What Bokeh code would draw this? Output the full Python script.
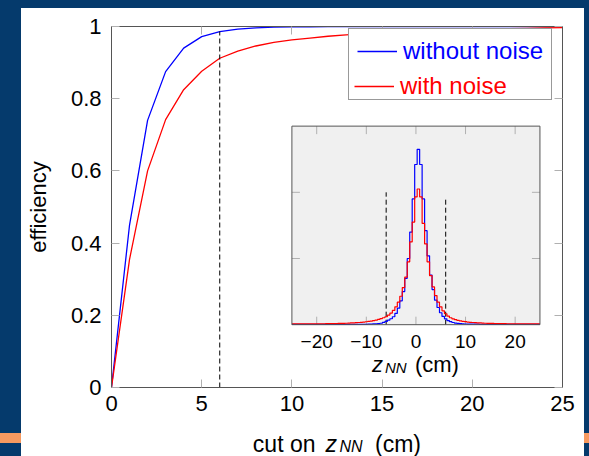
import numpy as np
from bokeh.plotting import figure
from bokeh.models import (Range1d, FixedTicker, LinearAxis, Legend, LegendItem, Div)
from bokeh.layouts import row, column
from bokeh.embed import file_html
from bokeh.resources import INLINE
from bokeh.core.properties import value

# ---------------- data ----------------
cut_values = [0, 1, 2, 3, 4, 5, 6, 7, 8, 9, 10, 11, 12, 13, 14, 15, 16, 17, 18, 19, 20, 21, 22, 23, 24, 25]
eff_without_noise = [0.0, 0.45, 0.74, 0.875, 0.94, 0.972, 0.986, 0.993, 0.996, 0.998, 0.999,
                     0.9993, 0.9995, 0.9996, 0.9997, 0.9998, 0.9998, 0.9999, 0.9999, 0.9999,
                     1.0, 1.0, 1.0, 1.0, 1.0, 1.0]
eff_with_noise = [0.0, 0.355, 0.60, 0.742, 0.825, 0.876, 0.912, 0.932, 0.946, 0.956, 0.963,
                  0.968, 0.973, 0.977, 0.980, 0.982, 0.984, 0.986, 0.988, 0.990, 0.991,
                  0.992, 0.994, 0.995, 0.996, 0.997]
working_cut = 6
series_labels = ["without noise", "with noise"]

x_ticks = [0, 5, 10, 15, 20, 25]
y_ticks = [0, 0.2, 0.4, 0.6, 0.8, 1]
y_tick_labels = {0: "0", 0.2: "0.2", 0.4: "0.4", 0.6: "0.6", 0.8: "0.8", 1: "1"}

# inset histogram of z_NN (bin width 0.5, centres -25 ... 25)
hist_bin_width = 0.5
hist_centers = np.arange(-25.0, 25.0 + hist_bin_width / 2, hist_bin_width)
hist_without_noise = (
    [0.006] * 31 +
    [0.008, 0.009, 0.011, 0.013, 0.017, 0.022, 0.036, 0.05, 0.068, 0.09,
     0.12, 0.17, 0.25, 0.36, 0.5, 0.7, 1.0, 1.4, 1.9, 2.42,
     2.65, 2.42, 1.9, 1.42, 1.04, 0.75, 0.53, 0.37, 0.26, 0.18,
     0.125, 0.088, 0.062, 0.045, 0.033, 0.025, 0.019, 0.015, 0.012, 0.01] +
    [0.009, 0.008, 0.008, 0.007, 0.007] + [0.006] * 25
)
hist_with_noise = (
    [0.012] * 11 +
    [0.013, 0.013, 0.014, 0.015, 0.015, 0.016, 0.017, 0.018, 0.019, 0.02,
     0.021, 0.022, 0.024, 0.026, 0.028, 0.03, 0.033, 0.036, 0.04, 0.044,
     0.049, 0.055, 0.062, 0.07, 0.08, 0.092, 0.105, 0.12, 0.145, 0.175,
     0.215, 0.27, 0.34, 0.43, 0.56, 0.72, 0.95, 1.25, 1.55, 1.93,
     2.05, 1.93, 1.53, 1.22, 0.95, 0.74, 0.57, 0.44, 0.34, 0.27,
     0.21, 0.165, 0.13, 0.105, 0.088, 0.075, 0.065, 0.057, 0.05, 0.045,
     0.04, 0.036, 0.033, 0.03, 0.028, 0.026, 0.024, 0.022, 0.021, 0.02,
     0.019, 0.018, 0.017, 0.016, 0.015, 0.015, 0.014, 0.013, 0.013] +
    [0.012] * 11
)
inset_x_ticks = [-20, -10, 0, 10, 20]
inset_x_tick_labels = ["\u221220", "\u221210", "0", "10", "20"]
inset_y_ticks = [1, 2]
inset_cuts = [-6, 6]
inset_cut_heights = [2.0, 1.93]

# ---------------- style ----------------
FONT = "Liberation Sans"
BLUE = "#0000ff"
RED = "#ff0000"
SLIDE_BLUE = "#053a6c"
ORANGE = "#f79a60"
TICK = "#b0b0b0"
FRAME = "#555555"

# inset placement (in main-plot data units) and ranges
INSET_X = (10.0, 23.75)
INSET_Y = (0.174, 0.724)
inset_xr = Range1d(-25, 25)
inset_yr = Range1d(0, 3)

W = 563
H = 414            # main figure (page y 8 .. 422)
HL = 34            # x-label strip (page y 422 .. 456)
BL, BR, BT, BB = 90, 22, 18, 35

xr = Range1d(0, 25)
p = figure(width=W, height=H, x_range=xr, y_range=Range1d(0, 1),
           output_backend="svg", toolbar_location=None,
           min_border_left=BL, min_border_right=BR, min_border_top=BT, min_border_bottom=BB,
           background_fill_color="white", border_fill_color="white",
           outline_line_color=FRAME, outline_line_width=1)
p.grid.grid_line_color = None


def style_axis(ax, ticks, show_labels):
    ax.ticker = FixedTicker(ticks=ticks)
    ax.major_tick_in = 8
    ax.major_tick_out = 0
    ax.major_tick_line_color = TICK
    ax.minor_tick_line_color = None
    ax.axis_line_color = FRAME
    ax.major_label_text_font = FONT
    ax.major_label_text_font_size = "22px"
    ax.major_label_text_color = "black"
    ax.major_label_standoff = 8
    if not show_labels:
        ax.major_label_text_color = None
        ax.major_label_text_font_size = "0px"
        ax.major_label_standoff = 0


style_axis(p.xaxis[0], x_ticks, True)
style_axis(p.yaxis[0], y_ticks, True)
p.yaxis[0].major_label_overrides = y_tick_labels
p.yaxis[0].major_label_standoff = 10
p.yaxis[0].axis_label = "efficiency"
p.yaxis[0].axis_label_text_font = FONT
p.yaxis[0].axis_label_text_font_size = "22px"
p.yaxis[0].axis_label_text_font_style = "normal"
p.yaxis[0].axis_label_text_color = "black"
p.yaxis[0].axis_label_standoff = 17

top_ax = LinearAxis()
style_axis(top_ax, x_ticks, False)
p.add_layout(top_ax, "above")
right_ax = LinearAxis()
style_axis(right_ax, y_ticks, False)
p.add_layout(right_ax, "right")

# main curves
r_blue = p.line(cut_values, eff_without_noise, line_color=BLUE, line_width=1.3)
r_red = p.line(cut_values, eff_with_noise, line_color=RED, line_width=1.3)
cut_top = eff_without_noise[cut_values.index(working_cut)]
p.segment(x0=[working_cut], y0=[0], x1=[working_cut], y1=[cut_top],
          line_color="black", line_width=1, line_dash="5 3")

# ---------------- inset ----------------
sub = p.subplot(x_source=inset_xr, y_source=inset_yr,
                x_target=Range1d(*INSET_X), y_target=Range1d(*INSET_Y))
frame_w_px = W - BL - BR
frame_h_px = H - BT - BB
inset_w_px = (INSET_X[1] - INSET_X[0]) / 25 * frame_w_px
inset_h_px = (INSET_Y[1] - INSET_Y[0]) * frame_h_px
tick_px = 8
tlx = tick_px * (inset_xr.end - inset_xr.start) / inset_w_px
tly = tick_px * (inset_yr.end - inset_yr.start) / inset_h_px

sub.quad(left=[inset_xr.start], right=[inset_xr.end], bottom=[inset_yr.start], top=[inset_yr.end],
         fill_color="#f0f0f0", line_color=None)
n = len(inset_x_ticks)
sub.segment(x0=inset_x_ticks, x1=inset_x_ticks, y0=[inset_yr.start] * n, y1=[inset_yr.start + tly] * n,
            line_color=TICK, line_width=1)
sub.segment(x0=inset_x_ticks, x1=inset_x_ticks, y0=[inset_yr.end] * n, y1=[inset_yr.end - tly] * n,
            line_color=TICK, line_width=1)
m = len(inset_y_ticks)
sub.segment(x0=[inset_xr.start] * m, x1=[inset_xr.start + tlx] * m, y0=inset_y_ticks, y1=inset_y_ticks,
            line_color=TICK, line_width=1)
sub.segment(x0=[inset_xr.end] * m, x1=[inset_xr.end - tlx] * m, y0=inset_y_ticks, y1=inset_y_ticks,
            line_color=TICK, line_width=1)
sub.segment(x0=inset_cuts, x1=inset_cuts, y0=[0] * len(inset_cuts), y1=inset_cut_heights,
            line_color="black", line_width=1, line_dash="5 3")
sub.step(x=hist_centers, y=hist_without_noise, mode="center", line_color=BLUE, line_width=1.2)
sub.step(x=hist_centers, y=hist_with_noise, mode="center", line_color=RED, line_width=1.2)
sub.quad(left=[inset_xr.start], right=[inset_xr.end], bottom=[inset_yr.start], top=[inset_yr.end],
         fill_color=None, line_color=FRAME, line_width=1)
sub.text(x=inset_x_ticks, y=[inset_yr.start] * n, text=inset_x_tick_labels,
         text_align="center", text_baseline="top", y_offset=10,
         text_font=value(FONT), text_font_size="19px", text_color="black")
sub.text(x=[0], y=[inset_yr.start], text=["z"], x_offset=-44, y_offset=40,
         text_align="left", text_baseline="alphabetic", text_font=value(FONT),
         text_font_size="22px", text_font_style="italic", text_color="black")
sub.text(x=[0], y=[inset_yr.start], text=["NN"], x_offset=-31, y_offset=43,
         text_align="left", text_baseline="alphabetic", text_font=value(FONT),
         text_font_size="15px", text_font_style="italic", text_color="black")
sub.text(x=[0], y=[inset_yr.start], text=["(cm)"], x_offset=-1, y_offset=40,
         text_align="left", text_baseline="alphabetic", text_font=value(FONT),
         text_font_size="22px", text_color="black")

# ---------------- legend ----------------
dummy = p.line(x=[], y=[], line_alpha=0)
leg_common = dict(margin=0, padding=8, spacing=6, glyph_width=40,
                  label_standoff=6, label_text_font=FONT, label_text_font_size="24px",
                  click_policy="none")
legend_a = Legend(items=[LegendItem(label=series_labels[0], renderers=[r_blue]),
                         LegendItem(label=" ", renderers=[dummy])],
                  location=(237, 287),
                  label_text_color=BLUE, border_line_color="#333333", border_line_width=1,
                  background_fill_color="white", background_fill_alpha=1, **leg_common)
legend_b = Legend(items=[LegendItem(label=series_labels[1], renderers=[r_red])],
                  location=(243, 287),
                  label_text_color=RED, border_line_color=None, background_fill_alpha=0, **leg_common)
p.add_layout(legend_a)
p.add_layout(legend_b)

# ---------------- x-axis title strip: cut on z_NN (cm) ----------------
lab = figure(width=W, height=HL, x_range=xr, y_range=Range1d(0, 1),
             output_backend="svg", toolbar_location=None,
             min_border_left=BL, min_border_right=BR, min_border_top=0, min_border_bottom=0,
             x_axis_location=None, y_axis_location=None,
             background_fill_color="white", border_fill_color="white", outline_line_color=None)
lab.grid.grid_line_color = None
xc = (xr.start + xr.end) / 2
lab_kw = dict(x=[xc], y=[1], text_font=value(FONT), text_color="black", text_baseline="alphabetic")
lab.text(text=["cut on"], x_offset=-21.5, y_offset=21, text_align="right",
         text_font_size="23px", **lab_kw)
lab.text(text=["z"], x_offset=-11.5, y_offset=21, text_align="left",
         text_font_size="23px", text_font_style="italic", **lab_kw)
lab.text(text=["NN"], x_offset=2.5, y_offset=24, text_align="left",
         text_font_size="16px", text_font_style="italic", **lab_kw)
lab.text(text=["(cm)"], x_offset=38, y_offset=21, text_align="left",
         text_font_size="23px", **lab_kw)

# ---------------- slide background strips ----------------
band = (f"linear-gradient(to bottom, {SLIDE_BLUE} 0px, {SLIDE_BLUE} 433px, {ORANGE} 433px, "
        f"{ORANGE} 443px, {SLIDE_BLUE} 443px, {SLIDE_BLUE} 456px)")
left_strip = Div(text="", width=21, height=456, margin=0, styles={"background": band})
right_strip = Div(text="", width=5, height=456, margin=0, styles={"background": band})
top_strip = Div(text="", width=W, height=8, margin=0, styles={"background": SLIDE_BLUE})

layout = row(left_strip, column(top_strip, p, lab, spacing=0), right_strip, spacing=0)
open("out.html", "w").write(file_html(layout, INLINE))
